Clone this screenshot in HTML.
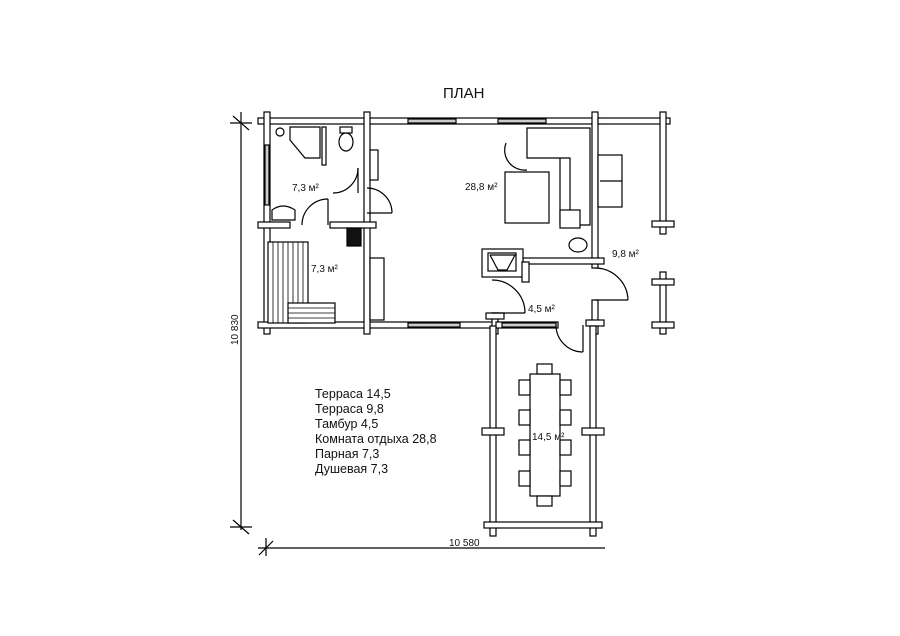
<!DOCTYPE html>
<html><head><meta charset="utf-8"><style>
html,body{margin:0;padding:0;background:#fff;}
svg{display:block;}
text{font-family:"Liberation Sans",sans-serif;fill:#111;}
</style></head><body>
<svg width="900" height="636" viewBox="0 0 900 636" xmlns="http://www.w3.org/2000/svg">
<g fill="#fff" stroke="#000" stroke-width="1.2">
<!-- dimension lines -->
<line x1="241" y1="112" x2="241" y2="530" />
<line x1="233" y1="116" x2="249" y2="130"/>
<line x1="233" y1="520" x2="249" y2="534"/>
<line x1="230" y1="123" x2="252" y2="123"/>
<line x1="230" y1="527" x2="252" y2="527"/>
<line x1="258" y1="548" x2="605" y2="548"/>
<line x1="266" y1="538" x2="266" y2="556"/>
<line x1="259" y1="555" x2="273" y2="541"/>

<!-- main walls -->
<rect x="258" y="118" width="342" height="6"/>
<rect x="264" y="112" width="6" height="222"/>
<rect x="258" y="322" width="238" height="6"/>
<rect x="364" y="112" width="6" height="222"/>
<rect x="258" y="222" width="32" height="6"/>
<rect x="330" y="222" width="46" height="6"/>
<rect x="592" y="112" width="6" height="156"/>
<rect x="523" y="258" width="81" height="6"/>
<rect x="592" y="300" width="6" height="34"/>
<rect x="586" y="320" width="18" height="6"/>
<!-- terrace 9.8 -->
<rect x="598" y="118" width="72" height="6"/>
<rect x="660" y="112" width="6" height="122"/>
<rect x="652" y="221" width="22" height="6"/>
<rect x="660" y="272" width="6" height="62"/>
<rect x="652" y="279" width="22" height="6"/>
<rect x="652" y="322" width="22" height="6"/>
<!-- tambour -->
<rect x="492" y="313" width="6" height="21"/>
<rect x="486" y="313" width="18" height="6"/>
<rect x="496" y="322" width="62" height="6"/>
<!-- terrace 14.5 -->
<rect x="490" y="326" width="6" height="210"/>
<rect x="590" y="326" width="6" height="210"/>
<rect x="484" y="522" width="118" height="6"/>
<rect x="482" y="428" width="22" height="7"/>
<rect x="582" y="428" width="22" height="7"/>
<!-- windows -->
<rect x="408" y="119" width="48" height="4" fill="#ccc"/>
<rect x="498" y="119" width="48" height="4" fill="#ccc"/>
<rect x="408" y="323" width="52" height="4" fill="#ccc"/>
<rect x="502" y="323" width="54" height="4" fill="#ccc"/>
<rect x="265" y="145" width="4" height="60" fill="#ccc"/>
<!-- fireplace -->
<rect x="482" y="249" width="41" height="28"/>
<rect x="488" y="253" width="28" height="18"/>
<polyline points="490,255 515,255 507,270 498,270 490,255" fill="none"/>
<rect x="522" y="262" width="7" height="20"/>
<!-- doors -->
<path d="M358,168 A25,25 0 0 1 333,193" fill="none"/>
<line x1="358" y1="168" x2="358" y2="193"/>
<path d="M367,188 A25,25 0 0 1 392,213" fill="none"/>
<line x1="367" y1="213" x2="392" y2="213"/>
<path d="M328,199 A26,26 0 0 0 302,225" fill="none"/>
<line x1="328" y1="199" x2="328" y2="225"/>
<path d="M492,280 A33,33 0 0 1 525,313" fill="none"/>
<line x1="492" y1="313" x2="525" y2="313"/>
<path d="M595,268 A33,33 0 0 1 628,300" fill="none"/>
<line x1="595" y1="300" x2="628" y2="300"/>
<path d="M556,325 A27,27 0 0 0 583,352" fill="none"/>
<line x1="583" y1="325" x2="583" y2="352"/>
<!-- bathroom fixtures -->
<path d="M290,127 L320,127 L320,158 L305,158 L290,140 Z"/>
<rect x="322" y="127" width="4" height="38"/>
<ellipse cx="346" cy="142" rx="7" ry="9"/>
<rect x="340" y="127" width="12" height="6"/>
<circle cx="280" cy="132" r="4"/>
<path d="M272,220 L272,210 Q283,202 295,210 L295,220 Z"/>
<rect x="347" y="228" width="14" height="18" fill="#111"/>
<rect x="370" y="150" width="8" height="30"/>
<!-- sauna benches -->
<rect x="268" y="242" width="40" height="81"/>
<g stroke-width="0.8">
<line x1="273" y1="242" x2="273" y2="323"/><line x1="278" y1="242" x2="278" y2="323"/><line x1="283" y1="242" x2="283" y2="323"/><line x1="288" y1="242" x2="288" y2="323"/><line x1="293" y1="242" x2="293" y2="303"/><line x1="298" y1="242" x2="298" y2="303"/><line x1="303" y1="242" x2="303" y2="303"/>
</g>
<rect x="288" y="303" width="47" height="20"/>
<g stroke-width="0.8">
<line x1="288" y1="308" x2="335" y2="308"/><line x1="288" y1="313" x2="335" y2="313"/><line x1="288" y1="318" x2="335" y2="318"/>
</g>
<rect x="370" y="258" width="14" height="62"/>
<!-- living room -->
<rect x="505" y="172" width="44" height="51"/>
<path d="M527,128 L590,128 L590,225 L570,225 L570,158 L527,158 Z"/>
<line x1="560" y1="158" x2="560" y2="225"/>
<path d="M506,143 A20,20 0 0 0 527,170" fill="none"/>
<rect x="560" y="210" width="20" height="18"/>
<rect x="598" y="155" width="24" height="52"/>
<line x1="600" y1="181" x2="622" y2="181"/>
<ellipse cx="578" cy="245" rx="9" ry="7"/>
<!-- dining table -->
<rect x="530" y="374" width="30" height="122"/>
<rect x="537" y="364" width="15" height="10"/><rect x="537" y="496" width="15" height="10"/>
<rect x="519" y="380" width="11" height="15"/><rect x="560" y="380" width="11" height="15"/>
<rect x="519" y="410" width="11" height="15"/><rect x="560" y="410" width="11" height="15"/>
<rect x="519" y="440" width="11" height="15"/><rect x="560" y="440" width="11" height="15"/>
<rect x="519" y="471" width="11" height="15"/><rect x="560" y="471" width="11" height="15"/>
</g>
<text x="443" y="98" font-size="15">ПЛАН</text>
<text x="292" y="191" font-size="10">7,3 м²</text>
<text x="311" y="272" font-size="10">7,3 м²</text>
<text x="465" y="190" font-size="10">28,8 м²</text>
<text x="612" y="257" font-size="10">9,8 м²</text>
<text x="528" y="312" font-size="10">4,5 м²</text>
<text x="532" y="440" font-size="10">14,5 м²</text>
<text x="449" y="546" font-size="10">10 580</text>
<text transform="translate(238,345) rotate(-90)" font-size="10">10 830</text>
<g font-size="12.5">
<text x="315" y="398">Терраса 14,5</text>
<text x="315" y="413">Терраса 9,8</text>
<text x="315" y="428">Тамбур 4,5</text>
<text x="315" y="443">Комната отдыха 28,8</text>
<text x="315" y="458">Парная 7,3</text>
<text x="315" y="473">Душевая 7,3</text>
</g>
</svg>
</body></html>
